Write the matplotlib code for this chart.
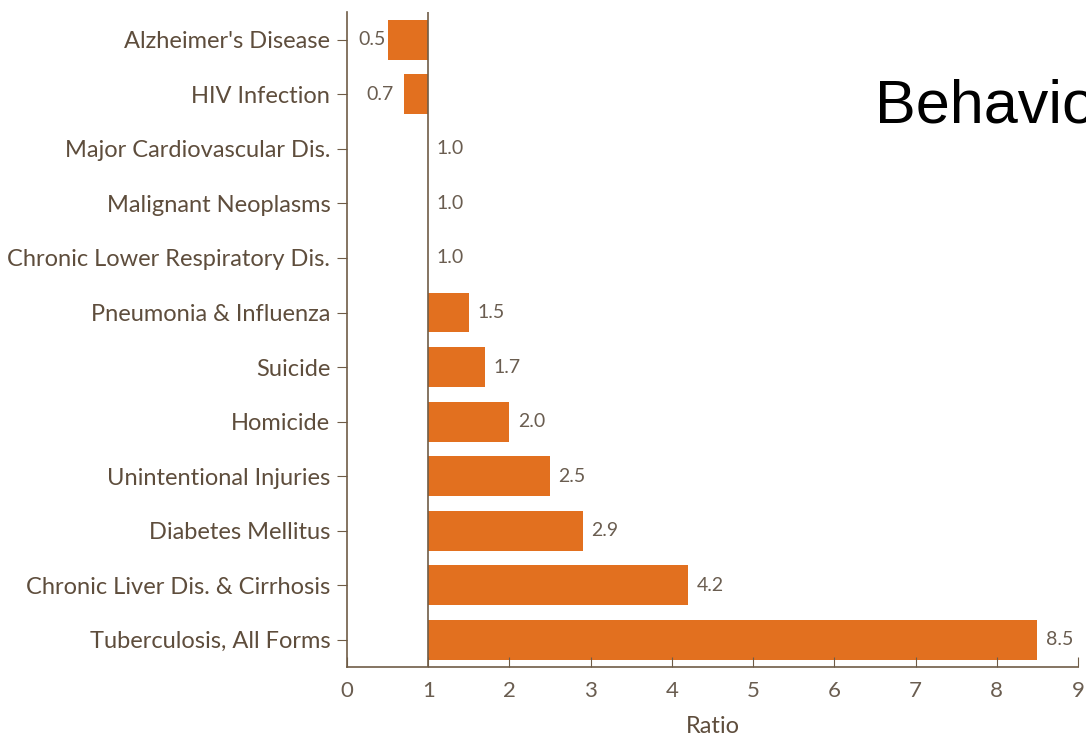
import matplotlib.pyplot as plt

causes = ["Alzheimer's Disease", "HIV Infection", "Major Cardiovascular Dis.",
          "Malignant Neoplasms", "Chronic Lower Respiratory Dis.",
          "Pneumonia & Influenza", "Suicide", "Homicide",
          "Unintentional Injuries", "Diabetes Mellitus",
          "Chronic Liver Dis. & Cirrhosis", "Tuberculosis, All Forms"]
ratios = [0.5, 0.7, 1.0, 1.0, 1.0, 1.5, 1.7, 2.0, 2.5, 2.9, 4.2, 8.5]
xticks = [0, 1, 2, 3, 4, 5, 6, 7, 8, 9]

bar_color = '#e2701f'
text_color = '#5e4d3c'
num_color = '#6a5d50'
axis_color = '#6f5c47'

plt.rcParams['font.family'] = ['Lato', 'DejaVu Sans']

fig = plt.figure(figsize=(10.86, 7.40), dpi=100)
ax = fig.add_axes([0.3195, 0.0986, 0.6731, 0.8852])

pos = list(range(len(causes)))
ax.barh(pos, [r - 1 for r in ratios], left=1, height=0.73, color=bar_color)
ax.axvline(1, color=axis_color, lw=1.2, zorder=3)

for p, r in zip(pos, ratios):
    if r < 1:
        ax.annotate(f'{r:.1f}', (r, p), xytext=(-1 if r == 0.5 else -7, 0),
                    textcoords='offset points', ha='right', va='center',
                    fontsize=14, color=num_color)
    else:
        ax.annotate(f'{r:.1f}', (r, p), xytext=(6, 0), textcoords='offset points',
                    ha='left', va='center', fontsize=14, color=num_color)

ax.set_xlim(0, 9)
ax.set_ylim(11.5, -0.51)
ax.set_yticks(pos)
ax.set_yticklabels(causes, fontsize=17, color=text_color)
ax.set_xticks(xticks)
ax.set_xticklabels([str(t) for t in xticks], fontsize=16, color=num_color)
ax.tick_params(axis='x', direction='in', length=7, color=axis_color, pad=10)
ax.tick_params(axis='y', direction='out', length=7, color=axis_color, pad=5)
ax.set_xlabel('Ratio', fontsize=17, color=text_color, labelpad=11)

for side in ['top', 'right']:
    ax.spines[side].set_visible(False)
for side in ['left', 'bottom']:
    ax.spines[side].set_color(axis_color)
    ax.spines[side].set_linewidth(1.2)

fig.text(0.806, 0.835, 'Behavioral', fontsize=44, family='Liberation Sans',
         color='black')

fig.savefig('out.png', dpi=100)
